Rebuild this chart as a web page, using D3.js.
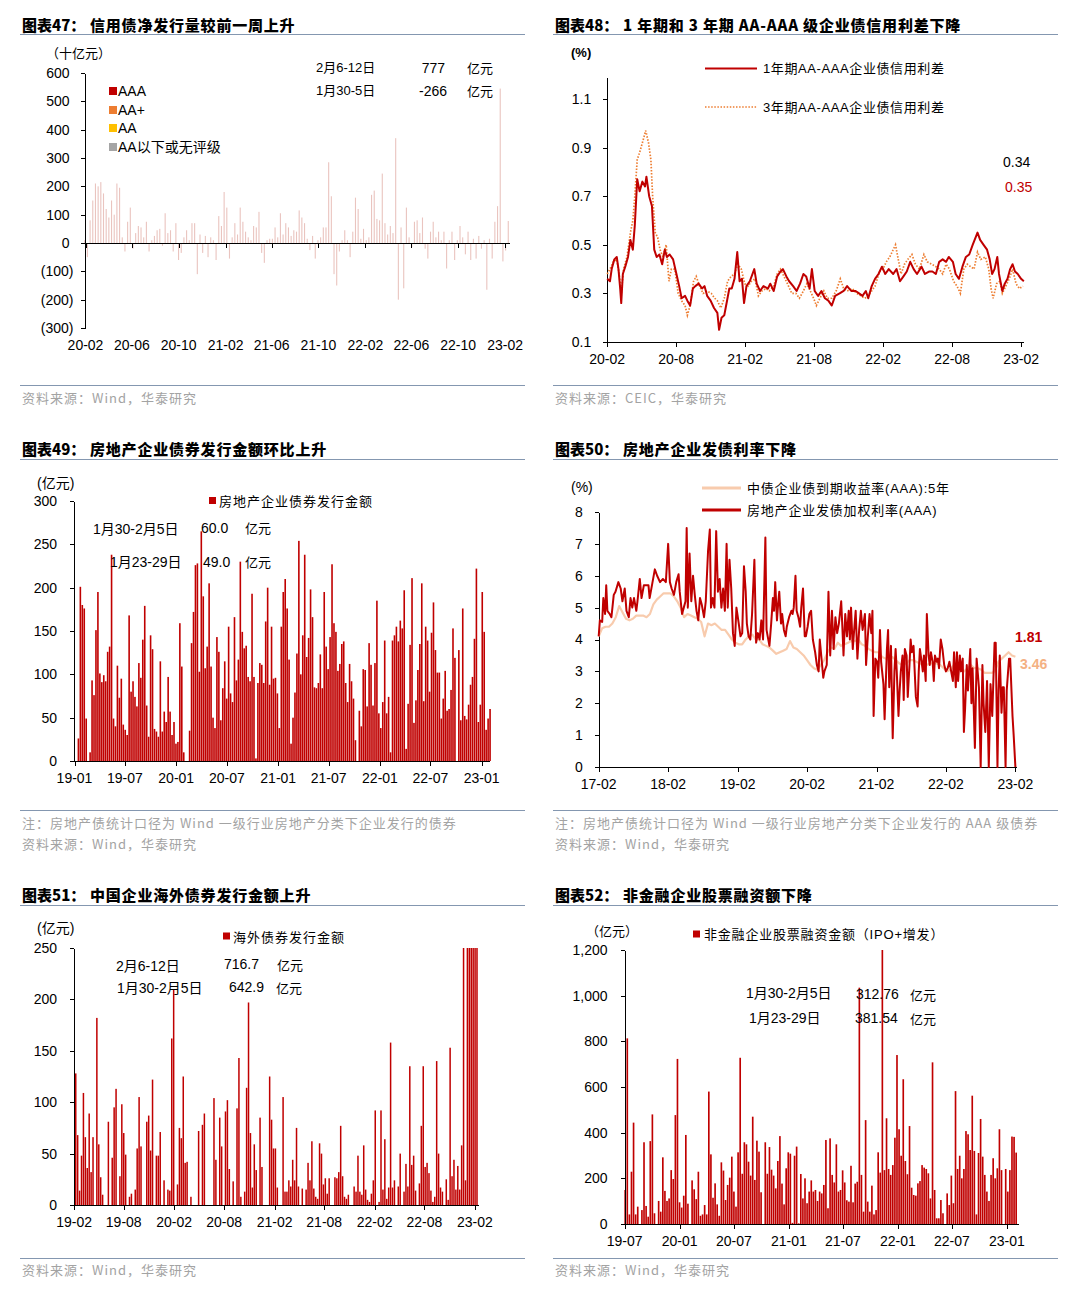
<!DOCTYPE html>
<html><head><meta charset="utf-8"><title>chart</title>
<script src="https://cdn.jsdelivr.net/npm/d3@7/dist/d3.min.js"></script>
<style>html,body{margin:0;padding:0;background:#fff}</style>
</head><body>
<svg id="c" width="1075" height="1302" xmlns="http://www.w3.org/2000/svg"></svg>
<script>
// ---------------- DATA ----------------
// 图表47 (十亿元), weekly net issuance
const p47Ticks = ["20-02","20-06","20-10","21-02","21-06","21-10","22-02","22-06","22-10","23-02"];
const p47YTicks = [600,500,400,300,200,100,0,-100,-200,-300];
const p47Legend = ["AAA","AA+","AA","AA以下或无评级"];
const p47Net = [10,-50,80,150,210,200,215,175,120,90,
150,100,210,195,20,-30,75,125,-20,35,
60,55,20,75,-30,10,25,45,50,-10,
105,35,45,-30,70,-60,-35,20,45,10,
70,70,-110,30,-35,25,-50,20,10,-60,
95,60,180,125,-55,20,70,30,125,75,
40,20,10,60,55,110,-35,-70,10,15,
15,55,20,105,30,70,55,25,45,40,
115,90,70,15,-25,25,-55,10,20,55,
55,285,165,-110,-150,-30,10,45,10,-50,
40,160,120,15,50,10,20,170,185,85,
80,245,70,30,60,35,370,-200,55,-160,
125,20,-15,75,80,35,90,-20,-55,40,
75,20,40,10,40,-90,10,40,-60,10,
60,20,-40,40,-60,15,-55,25,-20,10,
-165,15,-55,75,130,545,-65,-26.6,77.7];

// 图表48 (%), [months since 2020-02, value]
const p48Ticks = ["20-02","20-08","21-02","21-08","22-02","22-08","23-02"];
const p48YTicks = [0.1,0.3,0.5,0.7,0.9,1.1];
const p48Spread1 = [[0,.36],[.24,.35],[.39,.40],[.62,.44],[.83,.45],[.98,.40],[1.13,.32],[1.22,.26],[1.36,.38],[1.57,.41],[1.81,.45],[2.02,.52],[2.23,.48],[2.40,.58],[2.61,.77],[2.82,.72],[3.06,.76],[3.29,.74],[3.41,.78],[3.65,.70],[3.89,.66],[4.09,.48],[4.30,.45],[4.54,.46],[4.78,.42],[5.01,.48],[5.19,.45],[5.43,.46],[5.73,.44],[6.02,.38],[6.26,.33],[6.47,.28],[6.77,.29],[6.97,.27],[7.21,.25],[7.45,.32],[7.66,.33],[7.95,.34],[8.25,.32],[8.46,.33],[8.69,.29],[8.99,.27],[9.29,.24],[9.58,.22],[9.73,.15],[9.94,.20],[10.18,.21],[10.42,.27],[10.62,.32],[10.83,.32],[11.07,.36],[11.31,.47],[11.51,.35],[11.72,.36],[11.90,.26],[12.11,.33],[12.40,.35],[12.79,.40],[13.00,.34],[13.29,.31],[13.59,.33],[13.98,.32],[14.18,.34],[14.48,.31],[14.78,.37],[15.07,.39],[15.28,.40],[15.58,.37],[15.82,.35],[16.17,.33],[16.47,.31],[16.77,.34],[17.06,.38],[17.30,.37],[17.60,.32],[17.80,.40],[18.04,.31],[18.34,.29],[18.63,.31],[18.93,.28],[19.23,.27],[19.53,.25],[19.82,.29],[20.21,.30],[20.56,.31],[20.86,.33],[21.22,.31],[21.60,.31],[21.90,.30],[22.20,.29],[22.49,.31],[22.70,.28],[23.00,.33],[23.29,.36],[23.59,.38],[23.89,.41],[24.18,.38],[24.48,.40],[24.87,.38],[25.16,.40],[25.46,.35],[25.76,.37],[26.05,.39],[26.35,.43],[26.65,.40],[26.94,.38],[27.33,.41],[27.63,.38],[27.98,.39],[28.28,.39],[28.58,.38],[28.87,.43],[29.17,.44],[29.47,.43],[29.70,.45],[30.06,.43],[30.30,.38],[30.59,.36],[30.89,.41],[31.19,.45],[31.48,.46],[31.78,.50],[32.20,.55],[32.43,.52],[32.73,.50],[33.03,.48],[33.26,.44],[33.47,.38],[33.68,.40],[33.92,.45],[34.07,.38],[34.36,.31],[34.57,.34],[34.81,.36],[35.04,.40],[35.25,.42],[35.46,.39],[35.70,.38],[35.99,.36],[36.23,.35]];
const p48Spread3 = [[0,.38],[.24,.40],[.53,.43],[.83,.44],[1.04,.38],[1.22,.30],[1.42,.40],[1.72,.45],[2.02,.55],[2.23,.60],[2.40,.70],[2.61,.85],[2.82,.88],[3.06,.92],[3.35,.97],[3.59,.92],[3.80,.85],[3.95,.70],[4.18,.55],[4.39,.53],[4.60,.48],[4.84,.45],[5.13,.50],[5.37,.35],[5.58,.40],[5.88,.40],[6.17,.30],[6.47,.27],[6.77,.25],[6.97,.21],[7.21,.25],[7.51,.35],[7.74,.37],[8.04,.33],[8.34,.30],[8.69,.31],[9.05,.30],[9.35,.28],[9.58,.27],[9.88,.24],[10.18,.28],[10.47,.35],[10.77,.37],[11.07,.38],[11.36,.42],[11.66,.40],[11.96,.34],[12.26,.33],[12.55,.35],[12.85,.36],[13.15,.29],[13.44,.31],[13.80,.32],[14.09,.31],[14.48,.33],[14.78,.38],[15.07,.40],[15.37,.37],[15.67,.34],[16.05,.30],[16.41,.30],[16.71,.28],[17.06,.31],[17.36,.34],[17.66,.31],[17.95,.28],[18.19,.25],[18.49,.28],[18.84,.31],[19.14,.28],[19.53,.28],[19.91,.31],[20.27,.36],[20.56,.32],[20.86,.31],[21.31,.32],[21.69,.30],[22.05,.29],[22.40,.28],[22.70,.29],[23.00,.31],[23.29,.33],[23.68,.39],[23.98,.40],[24.27,.43],[24.57,.45],[24.87,.48],[25.07,.50],[25.31,.44],[25.55,.38],[25.85,.42],[26.14,.44],[26.50,.46],[26.80,.42],[27.15,.40],[27.54,.46],[27.83,.43],[28.22,.42],[28.58,.41],[28.87,.40],[29.17,.38],[29.47,.42],[29.76,.40],[30.12,.35],[30.42,.33],[30.71,.30],[31.01,.40],[31.31,.42],[31.60,.41],[31.90,.40],[32.20,.47],[32.49,.44],[32.88,.45],[33.18,.40],[33.38,.32],[33.56,.28],[33.86,.34],[34.15,.35],[34.36,.30],[34.66,.33],[34.96,.36],[35.25,.40],[35.55,.34],[35.85,.32],[36.15,.33]];

// 图表49 (亿元), weekly
const p49Ticks = ["19-01","19-07","20-01","20-07","21-01","21-07","22-01","22-07","23-01"];
const p49YTicks = [0,50,100,150,200,250,300];
const p49Values = [26,201,180,176,49,0,10,93,76,151,195,101,91,99,92,126,132,238,49,40,110,73,95,42,36,30,168,80,92,74,63,113,96,140,179,64,28,145,129,37,34,28,115,34,57,45,97,57,30,45,20,22,159,109,10,0,0,35,136,172,226,228,103,265,190,107,132,205,109,50,38,143,126,47,84,115,72,155,78,68,166,93,117,230,149,130,133,97,92,193,97,3,90,113,111,90,161,200,88,155,95,96,78,
38,155,195,210,176,117,20,50,79,124,254,100,145,238,120,142,198,166,85,84,90,123,84,195,132,106,143,227,159,149,104,112,135,138,90,68,112,92,72,24,0,58,40,106,105,63,136,111,64,113,185,55,38,68,139,55,74,10,139,145,155,138,162,153,197,14,66,134,211,44,70,105,135,205,69,155,139,80,148,183,128,102,102,49,72,104,58,60,82,153,119,0,128,47,176,52,48,65,88,97,141,222,45,65,195,149,36,49,60];

// 图表50 (%)
const p50Ticks = ["17-02","18-02","19-02","20-02","21-02","22-02","23-02"];
const p50YTicks = [0,1,2,3,4,5,6,7,8];
const p50Yield = [4.1,4.35,4.4,4.4,4.5,4.7,5.05,4.85,4.65,4.6,
4.65,4.75,4.75,4.75,4.7,4.8,5.1,5.25,5.35,5.45,
5.45,5.45,5.35,5.2,5.0,4.7,4.8,4.75,4.7,4.65,
4.55,4.1,4.5,4.45,4.5,4.4,4.3,4.3,4.15,4.0,
3.9,3.85,3.85,4.0,4.1,4.15,4.0,4.0,3.85,3.8,
3.75,3.65,3.55,3.6,3.65,3.7,3.95,3.75,3.7,3.6,
3.5,3.35,3.2,3.1,3.05,3.2,3.35,3.6,3.75,3.7,
3.9,3.8,3.85,3.9,3.95,3.95,4.0,3.85,3.8,3.7,
3.65,3.6,3.6,3.45,3.4,3.4,3.45,3.35,3.25,3.2,
3.25,3.35,3.35,3.3,3.25,3.2,3.2,3.25,3.25,3.25,
3.2,3.1,3.0,3.05,3.2,3.2,3.1,3.0,3.1,3.2,
3.1,3.1,3.05,2.95,2.95,2.95,3.0,3.3,3.4,3.5,
3.6,3.5,3.46];
// [months since 2017-02, value]
const p50Rate = [[0,4.1],[0.2,4.6],[0.6,4.55],[0.8,5.3],[1.1,4.8],[1.3,5.7],[1.5,4.9],[1.9,4.8],[2.2,4.7],[2.6,5.4],[2.9,5.5],[3.4,5.8],[3.8,5.6],[4.1,5.2],[4.5,5.6],[4.8,4.9],[5.2,4.7],[5.5,5.3],[5.8,5.0],[6.1,5.3],[6.5,4.9],[6.7,5.2],[7.1,5.9],[7.4,5.3],[7.8,5.7],[8.1,5.7],[8.6,5.7],[8.8,5.3],[9.2,5.7],[9.7,6.2],[10.1,6.0],[10.6,5.8],[11.1,5.9],[11.6,5.8],[12.0,7.0],[12.3,5.8],[12.6,5.6],[13.0,5.4],[13.4,5.8],[13.8,6.05],[14.0,5.5],[14.4,4.8],[14.7,5.0],[15.0,5.2],[15.2,7.5],[15.4,5.0],[15.7,6.7],[16.0,5.2],[16.3,6.0],[16.6,5.4],[16.9,4.9],[17.2,4.6],[17.5,5.3],[17.8,5.1],[18.2,4.7],[18.5,5.2],[18.9,6.8],[19.2,7.45],[19.4,5.0],[19.7,5.3],[20.0,5.0],[20.3,7.4],[20.6,5.5],[20.9,5.9],[21.2,5.0],[21.5,5.6],[21.8,4.9],[22.1,7.0],[22.3,5.0],[22.6,6.5],[22.9,5.6],[23.2,4.2],[23.5,3.8],[23.8,5.0],[24.2,4.5],[24.5,4.1],[24.8,4.2],[25.1,6.3],[25.4,5.5],[25.6,4.5],[25.9,4.1],[26.2,4.0],[26.5,4.8],[26.9,6.5],[27.2,3.9],[27.5,4.2],[27.8,4.0],[28.1,4.6],[28.4,4.0],[28.8,7.2],[29.0,4.3],[29.2,4.1],[29.5,3.8],[29.8,4.5],[30.1,5.3],[30.3,4.9],[30.5,5.8],[30.8,4.6],[31.0,5.1],[31.2,5.5],[31.5,4.5],[31.7,4.8],[32.0,4.3],[32.3,4.1],[32.5,4.4],[32.9,4.7],[33.3,4.9],[33.5,4.8],[33.7,5.0],[34.0,6.0],[34.2,4.9],[34.5,4.7],[34.8,4.4],[35.0,5.0],[35.3,5.6],[35.6,4.1],[35.8,4.1],[36.1,4.4],[36.4,4.8],[36.7,4.9],[37.0,4.0],[37.4,3.6],[37.7,3.2],[38.0,3.0],[38.2,4.0],[38.6,3.2],[38.8,2.8],[39.0,3.0],[39.4,3.2],[39.7,5.5],[40.0,3.5],[40.3,4.9],[40.6,3.7],[40.9,4.7],[41.2,4.2],[41.5,4.5],[41.9,5.2],[42.1,4.4],[42.3,3.5],[42.6,4.8],[42.9,4.1],[43.2,4.9],[43.4,4.0],[43.6,5.0],[43.9,3.7],[44.1,4.2],[44.4,4.9],[44.7,3.4],[45.0,4.3],[45.3,4.9],[45.6,4.3],[46.0,4.8],[46.2,3.2],[46.5,4.1],[46.8,4.8],[47.1,4.2],[47.3,4.9],[47.5,1.6],[47.8,3.4],[48.1,3.3],[48.3,2.8],[48.6,4.3],[48.8,3.3],[49.2,2.6],[49.4,1.5],[49.8,3.7],[50.0,4.3],[50.2,2.5],[50.5,3.8],[50.8,0.9],[51.1,3.0],[51.3,3.7],[51.5,3.0],[51.8,1.6],[52.0,2.4],[52.2,3.0],[52.5,3.5],[52.7,2.1],[52.9,3.7],[53.2,3.5],[53.4,2.2],[53.7,3.2],[53.9,4.0],[54.1,3.6],[54.4,3.8],[54.6,3.0],[54.8,2.2],[55.1,1.9],[55.3,3.0],[55.5,3.7],[55.8,3.3],[56.0,3.0],[56.2,3.5],[56.5,2.7],[56.7,4.8],[57.0,3.5],[57.2,3.2],[57.4,3.6],[57.7,3.3],[57.9,2.7],[58.1,3.5],[58.4,3.3],[58.6,3.4],[58.8,3.1],[59.1,4.0],[59.4,3.7],[59.7,3.2],[60.0,3.0],[60.3,3.1],[60.6,3.3],[60.9,3.0],[61.2,2.7],[61.4,3.6],[61.7,2.5],[61.9,3.6],[62.1,2.7],[62.4,3.5],[62.6,3.0],[62.9,3.4],[63.1,1.1],[63.3,1.8],[63.6,3.2],[63.8,2.4],[64.2,3.7],[64.4,2.0],[64.6,3.1],[65.0,0.6],[65.3,3.4],[65.7,2.5],[66.0,0.0],[66.3,3.2],[66.5,2.0],[66.8,1.1],[67.1,2.7],[67.4,0.0],[67.7,2.6],[68.0,1.6],[68.4,3.9],[68.6,3.9],[68.9,0.0],[69.1,2.4],[69.3,3.5],[69.6,1.7],[69.8,2.5],[70.0,2.5],[70.3,0.0],[70.5,2.4],[70.9,3.4],[71.1,3.4],[71.5,1.6],[71.7,1.0],[72.0,0.0]];

// 图表51 (亿元), weekly
const p51Ticks = ["19-02","19-08","20-02","20-08","21-02","21-08","22-02","22-08","23-02"];
const p51YTicks = [0,50,100,150,200,250];
const p51Values = [128,68,14,48,109,66,36,89,32,66,0,182,59,27,10,0,0,81,0,46,95,113,0,28,98,70,49,0,8,11,0,15,55,105,57,0,0,81,87,53,122,0,48,48,71,0,24,0,15,14,162,210,0,20,75,65,125,41,42,0,8,0,0,0,72,0,78,89,0,0,0,0,104,44,0,85,57,0,91,102,35,0,23,0,94,143,8,0,13,114,197,70,17,59,34,0,85,37,0,0,0,125,83,55,55,17,0,0,105,13,13,24,18,44,24,75,18,0,16,0,15,41,24,62,16,8,6,60,50,20,26,11,26,0,0,27,26,32,77,28,8,6,10,0,0,18,13,48,13,10,58,15,5,3,11,24,92,0,3,92,15,64,6,17,158,17,24,0,18,50,0,13,40,18,135,39,48,14,0,21,77,135,37,41,31,14,3,8,140,50,17,13,0,25,5,153,28,44,15,38,15,58,300,24,330,420,380,520,642.9,716.7];

// 图表52 (亿元), weekly
const p52Ticks = ["19-07","20-01","20-07","21-01","21-07","22-01","22-07","23-01"];
const p52YTicks = [0,200,400,600,800,1000,1200];
const p52Values = [149,813,42,229,444,42,76,0,61,358,79,32,363,480,47,0,101,54,292,145,101,112,236,197,477,723,95,72,124,390,89,0,191,152,109,229,36,42,83,42,580,305,115,178,86,36,270,234,105,171,203,295,142,76,314,728,220,358,349,273,212,470,193,365,317,139,0,358,220,337,238,212,156,276,385,177,86,244,314,308,5,299,339,3,219,112,200,91,142,191,142,149,
101,142,134,171,368,69,375,215,182,349,142,149,235,182,104,98,255,95,177,185,1035,215,54,455,98,54,168,42,61,314,225,1300,236,463,241,215,258,378,740,415,299,634,276,218,429,159,127,124,178,188,258,247,241,222,112,708,149,25,25,105,47,0,134,83,212,91,582,241,299,200,241,407,393,324,562,320,42,311,460,295,215,142,101,215,288,200,244,415,236,0,241,142,236,383,381.54,312.76];

// ---------------- DRAWING ----------------
const svg = d3.select('#c');
svg.append('rect').attr('width',1075).attr('height',1302).attr('fill','#fff');
const NUM = '"Liberation Sans", Arial, "Noto Sans CJK SC", sans-serif';
const CJK = '"Noto Sans CJK SC", "Liberation Sans", sans-serif';
const RED = '#c00000';
const RULE = '#8497b0';
const GREY = '#a3a3a3';

function T(x, y, s, o = {}) {
  const t = svg.append('text').attr('x', x).attr('y', y).text(s)
    .attr('font-size', o.size || 14).attr('fill', o.fill || '#000')
    .attr('font-family', o.family || NUM)
    .attr('dominant-baseline', 'central');
  if (o.anchor) t.attr('text-anchor', o.anchor);
  if (o.weight) t.attr('font-weight', o.weight);
  if (o.ls) t.attr('letter-spacing', o.ls);
  return t;
}
function L(x1, y1, x2, y2, c = '#000', w = 1) {
  return svg.append('line').attr('x1', x1).attr('y1', y1).attr('x2', x2).attr('y2', y2)
    .attr('stroke', c).attr('stroke-width', w).attr('shape-rendering', 'crispEdges');
}
function parseTick(s) { return new Date(2000 + (+s.slice(0, 2)), +s.slice(3, 5) - 1, 1); }
function weekDates(n, last) {
  const e = new Date(last + 'T00:00:00');
  return d3.range(n).map(i => d3.timeDay.offset(e, -(n - 1 - i) * 7));
}
function frame(x0, x1, titleY, ruleY, num, title, bottomY, notes) {
  T(x0 + 2, titleY, num, { size: 15, weight: 900, family: CJK });
  T(x0 + 70, titleY, title, { size: 15, weight: 900, family: CJK, ls: 0.8 });
  L(x0, ruleY, x1, ruleY, RULE, 1);
  L(x0, bottomY, x1, bottomY, RULE, 1);
  notes.forEach(([y, s]) => T(x0 + 2, y, s, { size: 13, fill: GREY, family: CJK, ls: 1 }));
}
function styleAxis(g) {
  g.attr('font-family', NUM).attr('font-size', 14);
  g.selectAll('.domain').attr('stroke', '#000').attr('shape-rendering', 'crispEdges');
  g.selectAll('.tick line').attr('stroke', '#000').attr('shape-rendering', 'crispEdges');
  g.selectAll('.tick text').attr('fill', '#000');
}
function yAxisD3(x, scale, ticks, fmt, pad) {
  const g = svg.append('g').attr('transform', `translate(${x},0)`)
    .call(d3.axisLeft(scale).tickValues(ticks).tickFormat(fmt).tickSize(4).tickPadding(pad).tickSizeOuter(0));
  styleAxis(g);
  return g;
}
function xTicksD3(y, scale, ticks, tickLen) {
  const g = svg.append('g').attr('transform', `translate(0,${y})`)
    .call(d3.axisBottom(scale).tickValues(ticks).tickFormat('').tickSize(tickLen).tickSizeOuter(0));
  styleAxis(g);
  g.select('.domain').remove();
  return g;
}
function xLabels(scale, ticks, labels, y) {
  ticks.forEach((t, i) => T(scale(t), y, labels[i], { anchor: 'middle' }));
}
function bars(values, dates, xs, ys, w, color, clipId) {
  const g = svg.append('g');
  if (clipId) g.attr('clip-path', `url(#${clipId})`);
  g.selectAll('rect').data(values).join('rect')
    .attr('x', (d, i) => xs(dates[i]) - w / 2)
    .attr('width', w)
    .attr('y', d => Math.min(ys(0), ys(d)))
    .attr('height', d => Math.abs(ys(d) - ys(0)))
    .attr('fill', color);
}
const defs = svg.append('defs');
function clip(id, x, y, w, h) {
  defs.append('clipPath').attr('id', id).append('rect').attr('x', x).attr('y', y).attr('width', w).attr('height', h);
}

// ===== 图表47 =====
frame(20, 525, 24, 34, '图表47：', '信用债净发行量较前一周上升', 385, [[397, '资料来源：Wind，华泰研究']]);
{
  const xs = d3.scaleTime().domain([parseTick('20-02'), parseTick('23-02')]).range([85.5, 505.2]);
  const ys = d3.scaleLinear().domain([-300, 600]).range([328, 73]);
  const dates = weekDates(p47Net.length, '2023-02-09');
  bars(p47Net, dates, xs, ys, 1.1, '#eac4bf');
  const g = yAxisD3(84.5, ys, p47YTicks, v => v < 0 ? `(${-v})` : `${v}`, 7);
  g.selectAll('.tick text').attr('dx', d => d < 0 ? 0 : -4);
  L(84.5, ys(0), 510, ys(0));
  const tv = p47Ticks.map(parseTick);
  xTicksD3(ys(0), xs, tv, 5);
  xLabels(xs, tv, p47Ticks, 345);
  T(46, 52, '（十亿元）', { size: 13, family: CJK });
  const lc = ['#c00000', '#ed7d31', '#ffc000', '#a5a5a5'];
  const ly = [91, 110, 128, 147];
  p47Legend.forEach((s, i) => {
    svg.append('rect').attr('x', 109).attr('y', ly[i] - 4).attr('width', 8).attr('height', 8).attr('fill', lc[i]);
    T(118, ly[i], s, { size: 14 });
  });
  T(316, 67.5, '2月6-12日', { size: 13 });
  T(445, 67.5, '777', { size: 14, anchor: 'end' });
  T(467, 67.5, '亿元', { size: 13, family: CJK });
  T(316, 90.5, '1月30-5日', { size: 13 });
  T(447, 90.5, '-266', { size: 14, anchor: 'end' });
  T(467, 90.5, '亿元', { size: 13, family: CJK });
}

// ===== 图表48 =====
frame(553, 1058, 24, 34, '图表48：', '1 年期和 3 年期 AA-AAA 级企业债信用利差下降', 385, [[397, '资料来源：CEIC，华泰研究']]);
{
  const xs = d3.scaleLinear().domain([0, 36]).range([607.2, 1021.2]);
  const ys = d3.scaleLinear().domain([0.1, 1.19]).range([342, 342 - 1.09 * 243]);
  yAxisD3(607.2, ys, p48YTicks, d3.format('.1f'), 12);
  L(607.2, 342, 1024, 342);
  const tv = [0, 6, 12, 18, 24, 30, 36];
  xTicksD3(342, xs, tv, 5);
  xLabels(xs, tv, p48Ticks, 359);
  const line = d3.line().x(d => xs(d[0])).y(d => ys(d[1]));
  svg.append('path').datum(p48Spread3).attr('d', line).attr('fill', 'none')
    .attr('stroke', '#ed7d31').attr('stroke-width', 1.7).attr('stroke-dasharray', '1.5,1.6');
  svg.append('path').datum(p48Spread1).attr('d', line).attr('fill', 'none')
    .attr('stroke', RED).attr('stroke-width', 2).attr('stroke-linejoin', 'round');
  T(571, 52, '(%)', { size: 13, weight: 700 });
  svg.append('line').attr('x1', 705).attr('x2', 757).attr('y1', 68.5).attr('y2', 68.5).attr('stroke', RED).attr('stroke-width', 2);
  T(763, 68.5, '1年期AA-AAA企业债信用利差', { size: 13, family: NUM, ls: 0.6 });
  svg.append('line').attr('x1', 705).attr('x2', 757).attr('y1', 107).attr('y2', 107).attr('stroke', '#ed7d31').attr('stroke-width', 1.7).attr('stroke-dasharray', '1.5,1.6');
  T(763, 107, '3年期AA-AAA企业债信用利差', { size: 13, family: NUM, ls: 0.6 });
  T(1003, 161.5, '0.34', { size: 14 });
  T(1005, 186.5, '0.35', { size: 14, fill: RED });
}

// ===== 图表49 =====
frame(20, 525, 448.5, 459.5, '图表49：', '房地产企业债券发行金额环比上升', 810,
  [[822, '注：房地产债统计口径为 Wind 一级行业房地产分类下企业发行的债券'], [843, '资料来源：Wind，华泰研究']]);
{
  const xs = d3.scaleTime().domain([parseTick('19-01'), parseTick('23-01')]).range([74.5, 481.7]);
  const ys = d3.scaleLinear().domain([0, 300]).range([761, 501]);
  const dates = weekDates(p49Values.length, '2023-01-31');
  bars(p49Values, dates, xs, ys, 1.6, RED);
  yAxisD3(73.5, ys, p49YTicks, d3.format('d'), 12.5);
  L(73.5, 761, 490, 761);
  const tv = p49Ticks.map(parseTick);
  xTicksD3(761, xs, tv, 5);
  xLabels(xs, tv, p49Ticks, 778);
  T(37, 483, '(亿元)', { size: 14 });
  svg.append('rect').attr('x', 209).attr('y', 497).attr('width', 7).attr('height', 7).attr('fill', RED);
  T(219, 500.5, '房地产企业债券发行金额', { size: 13, family: CJK, ls: 1 });
  T(93, 529, '1月30-2月5日', { size: 14 });
  T(201, 528, '60.0', { size: 14 });
  T(245, 527, '亿元', { size: 13, family: CJK });
  T(110, 562, '1月23-29日', { size: 14 });
  T(203, 561.5, '49.0', { size: 14 });
  T(245, 561, '亿元', { size: 13, family: CJK });
}

// ===== 图表50 =====
frame(553, 1058, 448.5, 459.5, '图表50：', '房地产企业发债利率下降', 810,
  [[822, '注：房地产债统计口径为 Wind 一级行业房地产分类下企业发行的 AAA 级债券'], [843, '资料来源：Wind，华泰研究']]);
{
  const xs = d3.scaleLinear().domain([0, 72]).range([598.7, 1015.4]);
  const ys = d3.scaleLinear().domain([0, 8]).range([767, 512]);
  yAxisD3(598.7, ys, p50YTicks, d3.format('d'), 12);
  L(598.7, 767, 1017, 767);
  const tv = [0, 12, 24, 36, 48, 60, 72];
  xTicksD3(767, xs, tv, 5);
  xLabels(xs, tv, p50Ticks, 784);
  const n = p50Yield.length;
  const yline = d3.line().x((d, i) => xs(i * 72 / (n - 1))).y(d => ys(d));
  svg.append('path').datum(p50Yield).attr('d', yline).attr('fill', 'none')
    .attr('stroke', '#f8cbad').attr('stroke-width', 2.2).attr('stroke-linejoin', 'round');
  const rline = d3.line().x(d => xs(d[0])).y(d => ys(d[1]));
  svg.append('path').datum(p50Rate).attr('d', rline).attr('fill', 'none')
    .attr('stroke', RED).attr('stroke-width', 2).attr('stroke-linejoin', 'round');
  T(571, 487, '(%)', { size: 14 });
  svg.append('line').attr('x1', 702).attr('x2', 741).attr('y1', 488).attr('y2', 488).attr('stroke', '#f8cbad').attr('stroke-width', 3);
  T(747, 488, '中债企业债到期收益率(AAA):5年', { size: 13, family: NUM, ls: 0.8 });
  svg.append('line').attr('x1', 702).attr('x2', 741).attr('y1', 510).attr('y2', 510).attr('stroke', RED).attr('stroke-width', 3);
  T(747, 510, '房地产企业发债加权利率(AAA)', { size: 13, family: NUM, ls: 0.8 });
  T(1015, 637, '1.81', { size: 14, weight: 700, fill: RED });
  T(1020, 664, '3.46', { size: 14, weight: 700, fill: '#f4b183' });
}

// ===== 图表51 =====
frame(20, 525, 894, 905, '图表51：', '中国企业海外债券发行金额上升', 1258, [[1269.5, '资料来源：Wind，华泰研究']]);
{
  const xs = d3.scaleTime().domain([parseTick('19-02'), parseTick('23-02')]).range([74.1, 474.8]);
  const ys = d3.scaleLinear().domain([0, 250]).range([1205, 948]);
  const dates = weekDates(p51Values.length, '2023-02-09');
  clip('c51', 73, 948, 420, 258);
  bars(p51Values, dates, xs, ys, 1.5, RED, 'c51');
  yAxisD3(73.5, ys, p51YTicks, d3.format('d'), 12.5);
  L(73.5, 1205, 479, 1205);
  const tv = p51Ticks.map(parseTick);
  xTicksD3(1205, xs, tv, 5);
  xLabels(xs, tv, p51Ticks, 1222);
  T(37, 928, '(亿元)', { size: 14 });
  svg.append('rect').attr('x', 223).attr('y', 932.5).attr('width', 7).attr('height', 7).attr('fill', RED);
  T(233, 936, '海外债券发行金额', { size: 13, family: CJK, ls: 1 });
  T(116, 966, '2月6-12日', { size: 14 });
  T(224, 964, '716.7', { size: 14 });
  T(277, 964, '亿元', { size: 13, family: CJK });
  T(117, 988, '1月30-2月5日', { size: 14 });
  T(229, 987, '642.9', { size: 14 });
  T(276, 987, '亿元', { size: 13, family: CJK });
}

// ===== 图表52 =====
frame(553, 1058, 894, 905, '图表52：', '非金融企业股票融资额下降', 1258, [[1269.5, '资料来源：Wind，华泰研究']]);
{
  const xs = d3.scaleTime().domain([parseTick('19-07'), parseTick('23-01')]).range([624.6, 1006.9]);
  const ys = d3.scaleLinear().domain([0, 1200]).range([1224, 950]);
  const dates = weekDates(p52Values.length, '2023-02-01');
  clip('c52', 624, 950, 400, 275);
  bars(p52Values, dates, xs, ys, 1.65, RED, 'c52');
  yAxisD3(624.6, ys, p52YTicks, d3.format(','), 13);
  L(624.6, 1224, 1019, 1224);
  const tv = p52Ticks.map(parseTick);
  xTicksD3(1224, xs, tv, 5);
  xLabels(xs, tv, p52Ticks, 1241);
  T(586, 930, '（亿元）', { size: 13, family: CJK });
  svg.append('rect').attr('x', 693).attr('y', 930.5).attr('width', 7).attr('height', 7).attr('fill', RED);
  T(704, 934, '非金融企业股票融资金额（IPO+增发）', { size: 13, family: NUM, ls: 0.8 });
  T(746, 993, '1月30-2月5日', { size: 14 });
  T(856, 994, '312.76', { size: 14 });
  T(910, 994, '亿元', { size: 13, family: CJK });
  T(749, 1018, '1月23-29日', { size: 14 });
  T(855, 1018, '381.54', { size: 14 });
  T(910, 1018, '亿元', { size: 13, family: CJK });
}
</script>
</body></html>
